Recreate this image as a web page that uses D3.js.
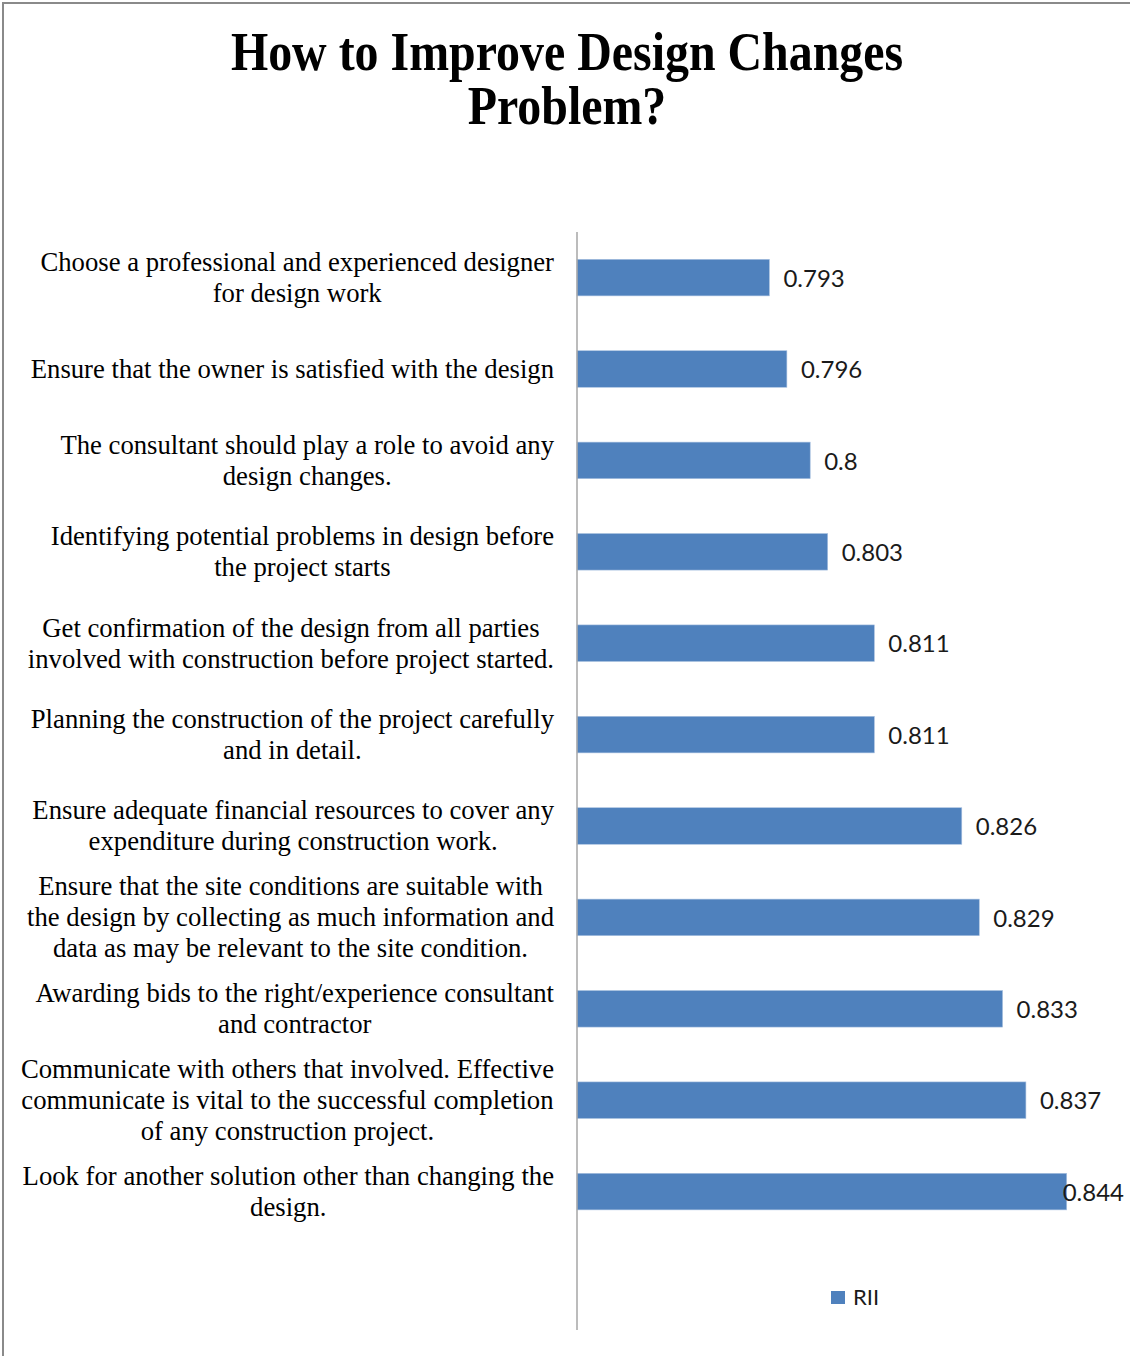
<!DOCTYPE html>
<html>
<head>
<meta charset="utf-8">
<script src="https://cdn.jsdelivr.net/npm/d3@7"></script>
<style>
  html, body { margin: 0; padding: 0; background: #fff; }
  svg { display: block; }
</style>
</head>
<body>
<svg id="chart" width="1130" height="1356"></svg>
<script>
// Chart content
const titleLines = ["How to Improve Design Changes", "Problem?"];

const categories = [
  ["Choose a professional and experienced designer", "for design work"],
  ["Ensure that the owner is satisfied with the design"],
  ["The consultant should play a role to avoid any", "design changes."],
  ["Identifying potential problems in design before", "the project starts"],
  ["Get confirmation of the design from all parties", "involved with construction before project started."],
  ["Planning the construction of the project carefully", "and in detail."],
  ["Ensure adequate financial resources to cover any", "expenditure during construction work."],
  ["Ensure that the site conditions are suitable with", "the design by collecting as much information and", "data as may be relevant to the site condition."],
  ["Awarding bids to the right/experience consultant", "and contractor"],
  ["Communicate with others that involved. Effective", "communicate is vital to the successful completion", "of any construction project."],
  ["Look for another solution other than changing the", "design."]
];

const rii = [0.793, 0.796, 0.8, 0.803, 0.811, 0.811, 0.826, 0.829, 0.833, 0.837, 0.844];
const seriesName = "RII";
const xDomain = [0.76, 0.86];

// Layout and style
const barColor = "#4f81bd";
const svg = d3.select("#chart");

// Outer frame (top and left edges)
svg.append("line").attr("x1", 2).attr("x2", 1130).attr("y1", 3).attr("y2", 3)
  .attr("stroke", "#8a8a8a").attr("stroke-width", 2);
svg.append("line").attr("x1", 3).attr("x2", 3).attr("y1", 2).attr("y2", 1356)
  .attr("stroke", "#8a8a8a").attr("stroke-width", 2);

// Title, set in a narrow bold serif
const title = svg.append("g").attr("transform", "translate(567,0) scale(0.887,1)");
title.selectAll("text").data(titleLines).join("text")
  .attr("x", 0)
  .attr("y", (d, i) => 70 + i * 54)
  .attr("text-anchor", "middle")
  .attr("font-family", "'Liberation Serif', 'Times New Roman', serif")
  .attr("font-weight", "bold")
  .attr("font-size", 54)
  .attr("fill", "#000")
  .text(d => d);

// Scales
const x = d3.scaleLinear().domain(xDomain).range([577, 1160]);
const y = d3.scaleBand()
  .domain(d3.range(categories.length))
  .range([231.9, 231.9 + 91.4 * categories.length])
  .paddingInner(0.6)
  .paddingOuter(0.3);

// Bars
svg.append("g").selectAll("rect").data(rii).join("rect")
  .attr("x", x(xDomain[0]))
  .attr("y", (d, i) => y(i))
  .attr("width", d => x(d) - x(xDomain[0]))
  .attr("height", y.bandwidth())
  .attr("fill", barColor)
  .attr("stroke", "#a9c1e0")
  .attr("stroke-width", 0.6);

// Vertical category axis line
svg.append("line")
  .attr("x1", 577).attr("x2", 577)
  .attr("y1", 232).attr("y2", 1330)
  .attr("stroke", "#a6a6a6").attr("stroke-width", 1.5);

// Category labels: a right-aligned block with centred lines
const lineH = 31;
const labelRight = 554;
const labels = svg.append("g")
  .attr("font-family", "'Liberation Serif', 'Times New Roman', serif")
  .attr("font-size", 26.7)
  .attr("fill", "#000");

categories.forEach((lines, i) => {
  const cy = y(i) + y.bandwidth() / 2;
  const g = labels.append("g");
  const texts = g.selectAll("text").data(lines).join("text")
    .attr("y", (d, k) => cy + (k - (lines.length - 1) / 2) * lineH)
    .attr("dy", "0.33em")
    .attr("text-anchor", "middle")
    .text(d => d);
  let maxW = 0;
  texts.each(function () { maxW = Math.max(maxW, this.getComputedTextLength()); });
  texts.attr("x", labelRight - maxW / 2);
});

// Value labels
const rightLimit = 1124;
svg.append("g").selectAll("text").data(rii).join("text")
  .attr("y", (d, i) => y(i) + y.bandwidth() / 2)
  .attr("dy", "0.38em")
  .attr("font-family", "Lato, 'Open Sans', sans-serif")
  .attr("font-size", 24)
  .attr("fill", "#1a1a1a")
  .text(d => String(d))
  .attr("x", function (d) {
    const w = this.getComputedTextLength();
    return Math.min(x(d) + 14, rightLimit - w);
  });

// Legend
const legend = svg.append("g").attr("transform", "translate(831,1291)");
legend.append("rect").attr("width", 14).attr("height", 13).attr("fill", barColor);
legend.append("text")
  .attr("x", 22).attr("y", 6.5).attr("dy", "0.36em")
  .attr("font-family", "Lato, 'Open Sans', sans-serif")
  .attr("font-size", 22)
  .attr("fill", "#1a1a1a")
  .text(seriesName);
</script>
</body>
</html>
